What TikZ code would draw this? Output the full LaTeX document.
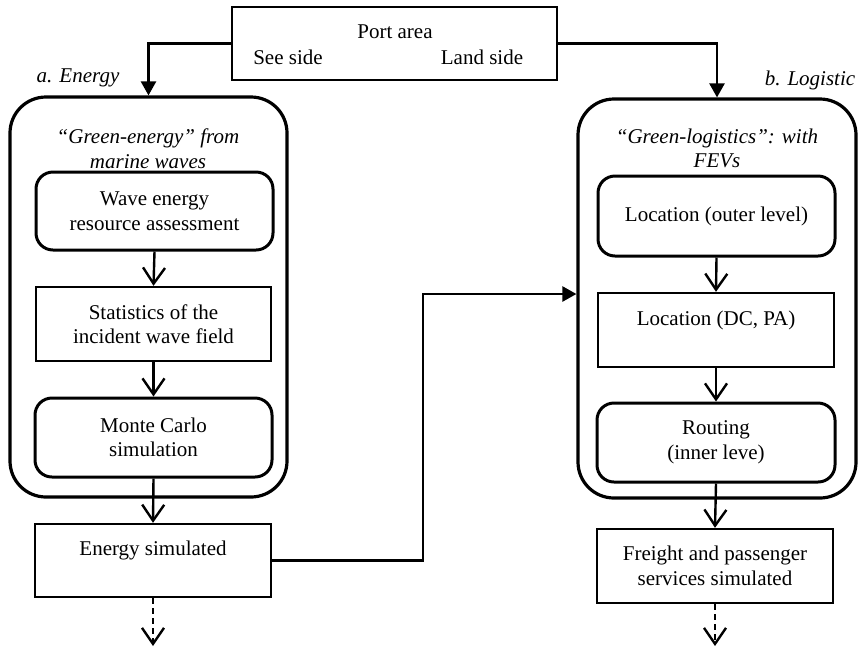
\documentclass[tikz,border=0pt]{standalone}
\usepackage{fontspec}
\setmainfont{Liberation Serif}
\usetikzlibrary{arrows.meta}
\begin{document}
\begin{tikzpicture}[x=1pt,y=-1pt,
  txt/.style={font=\fontsize{21}{24.5}\selectfont, align=center, inner sep=0pt},
  rbox/.style={txt, draw, line width=3pt, rounded corners=17pt},
  sbox/.style={txt, draw, line width=2.4pt},
  bigbox/.style={draw, line width=3.2pt, rounded corners=36pt, inner sep=0pt},
  ital/.style={txt, font=\fontsize{21}{24.5}\selectfont\itshape},
  openarrow/.style={line width=2.4pt, -{Straight Barb[length=16pt,width=22pt,line width=2.4pt]}},
  fillarrow/.style={line width=2.4pt, -{Triangle[length=14pt,width=15pt]}},
  dasharrow/.style={openarrow, dash pattern=on 6pt off 4pt},
]
\useasboundingbox (0,0) rectangle (858,649);
% top box
\node[sbox, minimum width=325pt, minimum height=73pt] (port) at (394.5,43.5) {};
\node[txt] (porttxt) at (395,32) {Port area};
\node[txt] (seetxt) at (288,57) {See side};
\node[txt] (landtxt) at (482,57) {Land side};
% big boxes
\node[bigbox, minimum width=277pt, minimum height=400pt] (energybox) at (148.5,297) {};
\node[bigbox, minimum width=278pt, minimum height=399pt] (logbox) at (717,298.5) {};
\node[ital] (alab) at (78,78) {a. Energy};
\node[ital] (blab) at (810,80) {b. Logistic};
\node[ital] (etitle) at (148,148.5) {“Green-energy” from\\marine waves};
\node[ital] (ltitle) at (717,148.5) {“Green-logistics”: with\\FEVs};
% left inner
\node[rbox, minimum width=237pt, minimum height=78pt] (wave) at (154.5,211) {Wave energy\\resource assessment};
\node[sbox, minimum width=235pt, minimum height=74pt] (stats) at (153.5,324) {Statistics of the\\incident wave field};
\node[rbox, minimum width=237pt, minimum height=79pt] (monte) at (153.5,437.5) {Monte Carlo\\simulation};
\node[sbox, minimum width=236pt, minimum height=73pt] (esim) at (153,560.5) {Energy simulated\\\mbox{}};
% right inner
\node[rbox, minimum width=237pt, minimum height=80pt] (locout) at (716.5,216) {Location (outer level)};
\node[sbox, minimum width=236pt, minimum height=74pt] (locdc) at (716,330) {Location (DC, PA)\\\mbox{}};
\node[rbox, minimum width=238pt, minimum height=79pt] (routing) at (716,442.5) {Routing\\(inner leve)};
\node[sbox, minimum width=236pt, minimum height=74pt] (freight) at (715,566) {Freight and passenger\\services simulated};
% coordinates
\coordinate (eend) at (153,646);
\coordinate (fend) at (715,646);
\coordinate (bend) at (423,294);
% connectors
\draw[fillarrow] (port.west) -| (energybox.north);
\draw[fillarrow] (port.east) -| (logbox.north);
\draw[openarrow] (wave.south) -- (stats.north);
\draw[openarrow] (stats.south) -- (monte.north);
\draw[openarrow] (monte.south) -- (esim.north);
\draw[dasharrow] (esim.south) -- (eend);
\draw[openarrow] (locout.south) -- (locdc.north);
\draw[openarrow] (locdc.south) -- (routing.north);
\draw[openarrow] (routing.south) -- (freight.north);
\draw[dasharrow] (freight.south) -- (fend);
\draw[fillarrow] (esim.east) -| (bend) -- (bend -| logbox.west);
\end{tikzpicture}
\end{document}
